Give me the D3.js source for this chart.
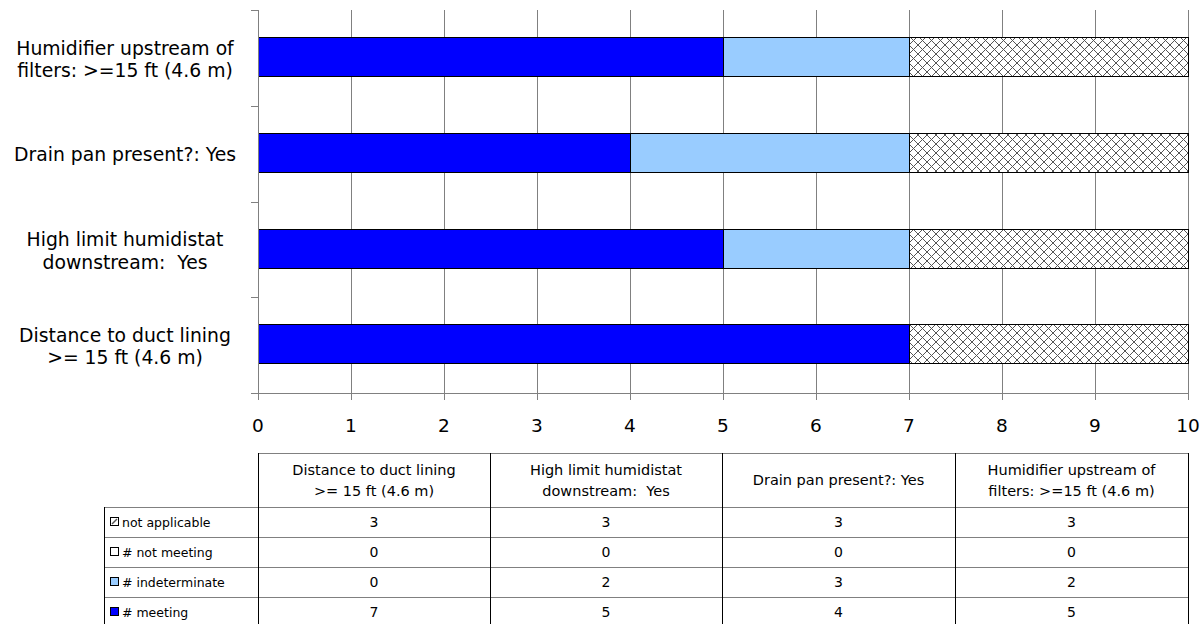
<!DOCTYPE html>
<html><head><meta charset="utf-8">
<script src="https://cdn.jsdelivr.net/npm/d3@7"></script>
<style>body{margin:0;background:#fff}svg{display:block}text{font-family:"DejaVu Sans",sans-serif;fill:#000}</style>
</head><body><svg id="c" width="1204" height="624"></svg>
<script>
const categories = ["Distance to duct lining\n>= 15 ft (4.6 m)", "High limit humidistat\ndownstream:  Yes", "Drain pan present?: Yes", "Humidifier upstream of\nfilters: >=15 ft (4.6 m)"];
const seriesNames = ["# meeting", "# indeterminate", "# not meeting", "not applicable"];
const meeting = [7, 5, 4, 5];
const indeterminate = [0, 2, 3, 2];
const notMeeting = [0, 0, 0, 0];
const notApplicable = [3, 3, 3, 3];
const xTicks = [0,1,2,3,4,5,6,7,8,9,10];
const seriesValues = [meeting, indeterminate, notMeeting, notApplicable];
const colors = ["#0000FF", "#99CCFF", "#FFFFFF", "url(#hatch)"];

const svg = d3.select("#c");
const defs = svg.append("defs");
const pat = defs.append("pattern").attr("id","hatch").attr("patternUnits","userSpaceOnUse").attr("width",9).attr("height",9);
pat.append("rect").attr("width",9).attr("height",9).attr("fill","#fff");
pat.append("path").attr("d","M0,0L9,9M9,0L0,9").attr("stroke","#555").attr("stroke-width",1);

const L = 258, R = 1188, T = 10, B = 393;
const x = d3.scaleLinear().domain([0,10]).range([L,R]);
const y = d3.scaleBand().domain(d3.range(categories.length).reverse()).range([T,B]).paddingInner(0.59).paddingOuter(0.295);
const yb = d3.scaleBand().domain(d3.range(categories.length).reverse()).range([T,B]);

// gridlines
svg.append("g").selectAll("line").data(xTicks.slice(1)).join("line")
  .attr("x1",d=>x(d)+0.5).attr("x2",d=>x(d)+0.5).attr("y1",T).attr("y2",B)
  .attr("stroke","#808080").attr("stroke-width",1);

// bars
const stack = d3.stack().keys(d3.range(seriesNames.length)).value((d,k)=>seriesValues[k][d]);
const stacked = stack(d3.range(categories.length));
stacked.forEach((s,k)=>{
  svg.append("g").selectAll("rect").data(s.filter(d=>d[1]-d[0]>0)).join("rect")
    .attr("x",d=>x(d[0])+0.5).attr("width",d=>x(d[1])-x(d[0]))
    .attr("y",d=>Math.round(y(d.data))-0.5).attr("height",Math.round(y.bandwidth()))
    .attr("fill",colors[k]).attr("stroke","#000").attr("stroke-width",1);
});

// x axis
svg.append("line").attr("x1",L-7).attr("x2",R).attr("y1",B+0.5).attr("y2",B+0.5).attr("stroke","#808080");
svg.append("g").selectAll("line").data(xTicks).join("line")
  .attr("x1",d=>x(d)+0.5).attr("x2",d=>x(d)+0.5).attr("y1",B).attr("y2",B+7).attr("stroke","#808080");
svg.append("g").selectAll("text").data(xTicks).join("text")
  .attr("x",d=>x(d)).attr("y",432).attr("text-anchor","middle").attr("font-size",18.5).text(d=>d);

// y axis
svg.append("line").attr("x1",L+0.5).attr("x2",L+0.5).attr("y1",T).attr("y2",B+7).attr("stroke","#808080");
const yticks = [T].concat(d3.range(categories.length).map(i=>yb(i)+yb.bandwidth()));
svg.append("g").selectAll("line").data(yticks).join("line")
  .attr("x1",L-7).attr("x2",L).attr("y1",d=>Math.round(d)+0.5).attr("y2",d=>Math.round(d)+0.5).attr("stroke","#808080");
const cl = svg.append("g").selectAll("text").data(d3.range(categories.length)).join("text")
  .attr("text-anchor","middle").attr("font-size",18.8)
  .attr("transform",i=>`translate(125,${y(i)+y.bandwidth()/2})`);
cl.each(function(i){
  const lines = categories[i].split("\n");
  const t = d3.select(this);
  lines.forEach((ln,j)=>{
    t.append("tspan").attr("x",0).attr("y",(j-(lines.length-1)/2)*22.5+(lines.length>1?8:7.5)).attr("xml:space","preserve").text(ln);
  });
});

// table
const colX = [258, 490, 722, 955, 1188];
const tTop = 453, hBot = 507, rowH = 30, legL = 104;
const rowOrder = [3,2,1,0];
const tbl = svg.append("g");
tbl.append("line").attr("x1",L).attr("x2",R).attr("y1",tTop+0.5).attr("y2",tTop+0.5).attr("stroke","#808080");
const rowTops = d3.range(rowOrder.length+1).map(r=>hBot+r*rowH);
tbl.selectAll("line.h").data(rowTops).join("line").attr("class","h")
  .attr("x1",legL).attr("x2",R).attr("y1",d=>d+0.5).attr("y2",d=>d+0.5).attr("stroke","#808080");
tbl.selectAll("line.v").data(colX).join("line").attr("class","v")
  .attr("x1",d=>d+0.5).attr("x2",d=>d+0.5).attr("y1",tTop).attr("y2",624).attr("stroke","#000");
tbl.append("line").attr("x1",legL+0.5).attr("x2",legL+0.5).attr("y1",hBot).attr("y2",624).attr("stroke","#000");
categories.forEach((c,i)=>{
  const lines = c.split("\n");
  const t = tbl.append("text").attr("text-anchor","middle").attr("font-size",14.5)
    .attr("transform",`translate(${(colX[i]+colX[i+1])/2},${(tTop+hBot)/2})`);
  lines.forEach((ln,j)=>t.append("tspan").attr("x",0).attr("y",(j-(lines.length-1)/2)*21+5).attr("xml:space","preserve").text(ln));
});
rowOrder.forEach((k,r)=>{
  const cy = hBot + r*rowH + rowH/2;
  const sx = 110;
  tbl.append("rect").attr("x",sx+0.5).attr("y",cy-4.5).attr("width",8).attr("height",8)
    .attr("fill",k===3?"#fff":colors[k]).attr("stroke","#000");
  if(k===3){
    tbl.append("path").attr("d",`M${sx+2},${cy+2}L${sx+7},${cy-3}`).attr("stroke","#555").attr("stroke-width",1.5);
  }
  tbl.append("text").attr("x",122).attr("y",cy+5).attr("font-size",12.5).text(seriesNames[k]);
  seriesValues[k].forEach((v,i)=>{
    tbl.append("text").attr("x",(colX[i]+colX[i+1])/2).attr("y",cy+5).attr("text-anchor","middle").attr("font-size",14).text(v);
  });
});
</script></body></html>
